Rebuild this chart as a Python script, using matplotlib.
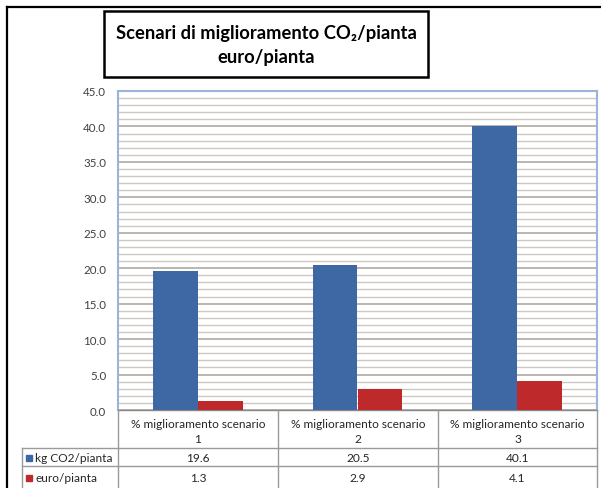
import matplotlib
matplotlib.use("Agg")
import matplotlib.pyplot as plt
from matplotlib.lines import Line2D
from matplotlib.patches import Rectangle
import numpy as np

plt.rcParams['font.family'] = ['Lato', 'DejaVu Sans']

categories = ["% miglioramento scenario\n1", "% miglioramento scenario\n2", "% miglioramento scenario\n3"]
series_names = ["kg CO2/pianta", "euro/pianta"]
co2_values = [19.6, 20.5, 40.1]
euro_values = [1.3, 2.9, 4.1]
value_labels = [["19.6", "20.5", "40.1"], ["1.3", "2.9", "4.1"]]
yticks = [0, 5, 10, 15, 20, 25, 30, 35, 40, 45]
title = "Scenari di miglioramento CO\u2082/pianta\neuro/pianta"

colors = ["#3E68A3", "#BE2A2C"]

W, H = 601, 489
fig = plt.figure(figsize=(W / 100, H / 100), dpi=100)

def fx(px):
    return px / W

def fy(py):
    return 1 - py / H

# outer frame (chart area border)
fig.add_artist(Line2D([fx(7), fx(7)], [fy(8), fy(489)], color="black", lw=1.6, transform=fig.transFigure))
fig.add_artist(Line2D([fx(7), fx(601)], [fy(8), fy(8)], color="black", lw=1.6, transform=fig.transFigure))

ax_l, ax_r, ax_t, ax_b = 118, 597, 92, 411
ax = fig.add_axes([fx(ax_l), fy(ax_b), fx(ax_r - ax_l), fy(ax_t) - fy(ax_b)])

x = np.arange(len(categories))
bw = 0.28
ax.bar(x - bw / 2, co2_values, bw, color=colors[0], zorder=3)
ax.bar(x + bw / 2, euro_values, bw, color=colors[1], zorder=3)

ax.set_xlim(-0.5, len(categories) - 0.5)
ax.set_ylim(0, 45)
ax.set_yticks(yticks)
ax.set_yticklabels([f"{v:.1f}" for v in yticks], fontsize=8.3, color="#404040")
ax.set_yticks(np.arange(0, 46, 1), minor=True)
ax.tick_params(axis="y", which="both", length=0, pad=8.5)
ax.set_xticks([])
ax.set_axisbelow(True)
ax.yaxis.grid(True, which="minor", color="#CDC9C2", lw=1.0)
ax.yaxis.grid(True, which="major", color="#B5B0A8", lw=1.3)
for s in ["left", "right", "top"]:
    ax.spines[s].set_color("#9DB4DA")
    ax.spines[s].set_linewidth(1.5)
ax.spines["bottom"].set_color("#888888")
ax.spines["bottom"].set_linewidth(1.0)

# data table below the axes
tc = "#9A9A9A"
txtc = "#262626"
col_edges = [118, 278, 438, 597]
row_lines = [449, 467]
for xe in col_edges:
    fig.add_artist(Line2D([fx(xe), fx(xe)], [fy(411), fy(489)], color=tc, lw=1.0, transform=fig.transFigure))
fig.add_artist(Line2D([fx(22), fx(22)], [fy(449), fy(489)], color=tc, lw=1.0, transform=fig.transFigure))
for yr in row_lines:
    fig.add_artist(Line2D([fx(22), fx(597)], [fy(yr), fy(yr)], color=tc, lw=1.0, transform=fig.transFigure))

for i, cat in enumerate(categories):
    cx = (col_edges[i] + col_edges[i + 1]) / 2
    fig.text(fx(cx), fy(432), cat, ha="center", va="center", fontsize=8.6, color=txtc,
             linespacing=1.5)
    fig.text(fx(cx), fy(459), value_labels[0][i], ha="center", va="center", fontsize=8.6, color=txtc)
    fig.text(fx(cx), fy(478.5), value_labels[1][i], ha="center", va="center", fontsize=8.6, color=txtc)

for j, (name, yc) in enumerate(zip(series_names, [459, 478.5])):
    fig.add_artist(Rectangle((fx(26), fy(yc + 3)), fx(6), fy(yc - 3) - fy(yc + 3), color=colors[j],
                             transform=fig.transFigure))
    fig.text(fx(35), fy(yc), name, ha="left", va="center", fontsize=8.6, color=txtc)

# title box
fig.add_artist(Rectangle((fx(104), fy(78)), fx(428 - 104), fy(12) - fy(78), facecolor="white",
                         edgecolor="black", lw=1.8, transform=fig.transFigure))
fig.text(fx(266), fy(45.5), title, ha="center", va="center", fontsize=13.2, fontweight="bold",
         color="black", linespacing=1.45)

fig.savefig("out.png", dpi=100)
